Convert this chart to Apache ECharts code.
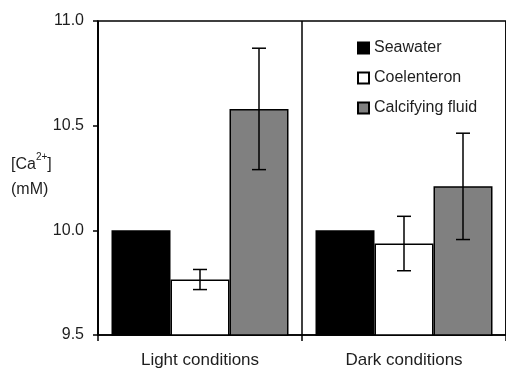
<!DOCTYPE html>
<html><head><meta charset="utf-8">
<script src="https://cdn.jsdelivr.net/npm/echarts@6/dist/echarts.min.js"></script>
<style>html,body{margin:0;padding:0;background:#fff}#c{width:506px;height:369px}</style>
</head><body><div id="c"></div>
<script>
const categories = ['Light conditions', 'Dark conditions'];
const seriesNames = ['Seawater', 'Coelenteron', 'Calcifying fluid'];
const seawater = [10.0, 10.0];
const coelenteron = [9.765, 9.937];
const calcifying = [10.58, 10.21];
const seawaterErr = [null, null];
const coelenteronErr = [0.048, 0.13];
const calcifyingErr = [0.29, 0.254];
const yMin = 9.5, yMax = 11.0, yStep = 0.5;

const FONT = "'Liberation Sans', Arial, sans-serif";
const TXT = '#1e1e1e';
const BAR_W = 59;
const colors = ['#000000', '#ffffff', '#808080'];
const values = [seawater, coelenteron, calcifying];
const errs = [seawaterErr, coelenteronErr, calcifyingErr];

const chart = echarts.init(document.getElementById('c'), null, {renderer: 'canvas'});

const barSeries = values.map((vals, k) => ({
  type: 'bar',
  name: seriesNames[k],
  data: vals,
  barWidth: BAR_W,
  barGap: '0%',
  itemStyle: {color: colors[k], borderColor: '#000', borderWidth: 1.5},
  emphasis: {disabled: true},
  z: 2
}));

const errSeries = errs.map((e, k) => {
  const data = [];
  e.forEach((d, i) => { if (d != null) data.push([i, values[k][i] - d, values[k][i] + d]); });
  return {
    type: 'custom',
    name: seriesNames[k] + ' SD',
    data: data,
    encode: {x: 0, y: [1, 2]},
    z: 10,
    renderItem: function (params, api) {
      const lo = api.coord([api.value(0), api.value(1)]);
      const hi = api.coord([api.value(0), api.value(2)]);
      const x = lo[0] + (k - 1) * BAR_W;
      const cap = 7;
      const st = {stroke: '#000', lineWidth: 1.5};
      return {type: 'group', children: [
        {type: 'line', shape: {x1: x, y1: lo[1], x2: x, y2: hi[1]}, style: st},
        {type: 'line', shape: {x1: x - cap, y1: lo[1], x2: x + cap, y2: lo[1]}, style: st},
        {type: 'line', shape: {x1: x - cap, y1: hi[1], x2: x + cap, y2: hi[1]}, style: st}
      ]};
    }
  };
});

chart.setOption({
  animation: false,
  backgroundColor: '#fff',
  textStyle: {fontFamily: FONT},
  grid: {left: 98, top: 21, width: 410, height: 315, show: true, borderColor: '#000', borderWidth: 1.5, backgroundColor: 'transparent'},
  legend: {
    orient: 'vertical', left: 352, top: 35,
    itemWidth: 11, itemHeight: 11, itemGap: 14,
    icon: 'rect',
    data: seriesNames,
    textStyle: {fontFamily: FONT, fontSize: 16, color: TXT},
    selectedMode: false
  },
  xAxis: {
    type: 'category',
    data: categories,
    axisLine: {lineStyle: {color: '#000', width: 1.5}},
    axisTick: {show: true, length: 6, lineStyle: {color: '#000', width: 1.5}},
    splitLine: {show: true, lineStyle: {color: '#000', width: 1.5}},
    axisLabel: {fontFamily: FONT, fontSize: 17, color: TXT, margin: 17}
  },
  yAxis: {
    type: 'value',
    min: yMin, max: yMax, interval: yStep,
    axisLine: {show: true, lineStyle: {color: '#000', width: 1.5}},
    axisTick: {show: true, length: 5, lineStyle: {color: '#000', width: 1.5}},
    splitLine: {show: false},
    axisLabel: {fontFamily: FONT, fontSize: 16, color: TXT, margin: 14, formatter: v => v.toFixed(1)}
  },
  graphic: [{
    type: 'text', left: 11, top: 152,
    style: {
      text: '{a|[Ca}{s|2+}{a|]}\n{a|(mM)}',
      fontFamily: FONT,
      rich: {
        a: {fontSize: 16, fill: TXT, fontFamily: FONT, lineHeight: 25},
        s: {fontSize: 10, fill: TXT, fontFamily: FONT, verticalAlign: 'top', lineHeight: 25, padding: [0, 0, 8, 0]}
      }
    }
  }],
  series: barSeries.concat(errSeries)
});
</script>
</body></html>
